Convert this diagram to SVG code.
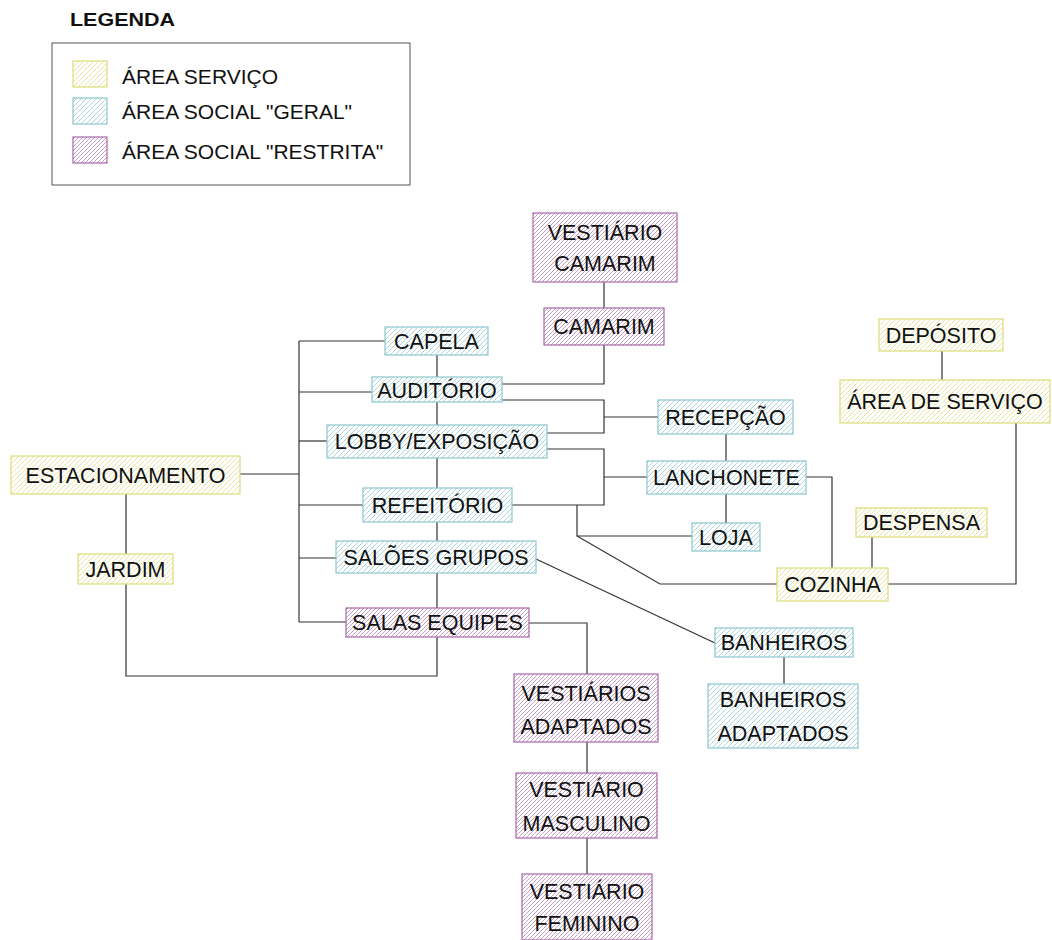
<svg xmlns="http://www.w3.org/2000/svg" width="1052" height="940" viewBox="0 0 1052 940">
<defs>
<pattern id="hy" patternUnits="userSpaceOnUse" width="5" height="5"><rect width="5" height="5" fill="#fff"/><path d="M-1,1 l2,-2 M0,5 l5,-5 M4,6 l2,-2" stroke="#dede80" stroke-width="0.75"/></pattern>
<pattern id="hc" patternUnits="userSpaceOnUse" width="5" height="5"><rect width="5" height="5" fill="#fff"/><path d="M-1,1 l2,-2 M0,5 l5,-5 M4,6 l2,-2" stroke="#90c8d0" stroke-width="0.75"/></pattern>
<pattern id="hm" patternUnits="userSpaceOnUse" width="4" height="4"><rect width="4" height="4" fill="#fff"/><path d="M-1,1 l2,-2 M0,4 l4,-4 M3,5 l2,-2" stroke="#b080b4" stroke-width="0.75"/></pattern>
</defs>
<style>
.y{fill:url(#hy);stroke:#dcdc78;stroke-width:1.2}
.c{fill:url(#hc);stroke:#8cc6ce;stroke-width:1.2}
.m{fill:url(#hm);stroke:#a868a8;stroke-width:1.2}
text{font-family:"Liberation Sans",Arial,sans-serif;fill:#111}
.n{font-size:21.5px;text-anchor:middle}
.l{font-size:21px}
.conn path{fill:none;stroke:#333;stroke-width:1.2}
</style>
<rect width="1052" height="940" fill="#fff"/>
<g id="legend">
<text x="70" y="26" font-size="18" font-weight="bold" textLength="105" lengthAdjust="spacingAndGlyphs">LEGENDA</text>
<rect x="52" y="43" width="358" height="142" fill="none" stroke="#555" stroke-width="1"/>
<rect class="y" x="73" y="61" width="34" height="26"/>
<rect class="c" x="73" y="98" width="34" height="26"/>
<rect class="m" x="73" y="137" width="34" height="26"/>
<text class="l" x="122" y="84">ÁREA SERVIÇO</text>
<text class="l" x="122" y="119">ÁREA SOCIAL "GERAL"</text>
<text class="l" x="122" y="159">ÁREA SOCIAL "RESTRITA"</text>
</g>
<g class="conn" id="connectors">
<path d="M299,341 V622"/>
<path d="M299,341 H385"/>
<path d="M299,392 H372"/>
<path d="M299,441 H327"/>
<path d="M240,474 H299"/>
<path d="M299,505 H363"/>
<path d="M299,558 H336"/>
<path d="M299,622 H346"/>
<path d="M437,355 V377"/>
<path d="M437,402 V425"/>
<path d="M437,458 V488"/>
<path d="M437,522 V541"/>
<path d="M437,573 V608"/>
<path d="M437,637 V676 H126 V584"/>
<path d="M126,494 V554"/>
<path d="M604,282 V308"/>
<path d="M604,345 V384 H502"/>
<path d="M502,400 H604 V433 H547"/>
<path d="M604,417 H658"/>
<path d="M547,449 H604 V505 H512"/>
<path d="M604,477 H647"/>
<path d="M577,505 V536 H692"/>
<path d="M577,536 L660,584 H777"/>
<path d="M726,434 V461"/>
<path d="M726,494 V523"/>
<path d="M806,477 H832 V568"/>
<path d="M872,537 V568"/>
<path d="M888,584 H1016 V423"/>
<path d="M942,351 V380"/>
<path d="M536,559 L715,643"/>
<path d="M784,657 V684"/>
<path d="M529,623 H587 V674"/>
<path d="M587,742 V773"/>
<path d="M587,838 V874"/>
</g>
<g id="vestiario-camarim"><rect class="m" x="533" y="213" width="144" height="69"/><text class="n" x="605" y="240">VESTIÁRIO</text><text class="n" x="605" y="271">CAMARIM</text></g>
<g id="camarim"><rect class="m" x="544" y="308" width="120" height="37"/><text class="n" x="604" y="334">CAMARIM</text></g>
<g id="capela"><rect class="c" x="385" y="327" width="103" height="28"/><text class="n" x="436.5" y="349">CAPELA</text></g>
<g id="auditorio"><rect class="c" x="372" y="377" width="130" height="25"/><text class="n" x="437" y="397.5">AUDITÓRIO</text></g>
<g id="lobby"><rect class="c" x="327" y="425" width="220" height="33"/><text class="n" x="437" y="449">LOBBY/EXPOSIÇÃO</text></g>
<g id="refeitorio"><rect class="c" x="363" y="488" width="149" height="34"/><text class="n" x="437.5" y="513">REFEITÓRIO</text></g>
<g id="saloes-grupos"><rect class="c" x="336" y="541" width="200" height="32"/><text class="n" x="436" y="565">SALÕES GRUPOS</text></g>
<g id="salas-equipes"><rect class="m" x="346" y="608" width="183" height="29"/><text class="n" x="437.5" y="630">SALAS EQUIPES</text></g>
<g id="estacionamento"><rect class="y" x="11" y="456" width="229" height="38"/><text class="n" x="125.5" y="483">ESTACIONAMENTO</text></g>
<g id="jardim"><rect class="y" x="78" y="554" width="95" height="30"/><text class="n" x="125.5" y="577">JARDIM</text></g>
<g id="recepcao"><rect class="c" x="658" y="400" width="135" height="34"/><text class="n" x="725.5" y="425">RECEPÇÃO</text></g>
<g id="lanchonete"><rect class="c" x="647" y="461" width="159" height="33"/><text class="n" x="726.5" y="485">LANCHONETE</text></g>
<g id="loja"><rect class="c" x="692" y="523" width="68" height="28"/><text class="n" x="726" y="545">LOJA</text></g>
<g id="deposito"><rect class="y" x="879" y="319" width="124" height="32"/><text class="n" x="941" y="343">DEPÓSITO</text></g>
<g id="area-servico"><rect class="y" x="840" y="380" width="210" height="43"/><text class="n" x="945" y="409">ÁREA DE SERVIÇO</text></g>
<g id="despensa"><rect class="y" x="856" y="508" width="131" height="29"/><text class="n" x="921.5" y="530">DESPENSA</text></g>
<g id="cozinha"><rect class="y" x="777" y="568" width="111" height="33"/><text class="n" x="832.5" y="592">COZINHA</text></g>
<g id="banheiros"><rect class="c" x="715" y="628" width="138" height="29"/><text class="n" x="784" y="650">BANHEIROS</text></g>
<g id="banheiros-adaptados"><rect class="c" x="708" y="684" width="150" height="64"/><text class="n" x="783" y="707">BANHEIROS</text><text class="n" x="783" y="741">ADAPTADOS</text></g>
<g id="vestiarios-adaptados"><rect class="m" x="514" y="674" width="144" height="68"/><text class="n" x="586" y="701">VESTIÁRIOS</text><text class="n" x="586" y="734">ADAPTADOS</text></g>
<g id="vestiario-masculino"><rect class="m" x="516" y="773" width="141" height="65"/><text class="n" x="586.5" y="797">VESTIÁRIO</text><text class="n" x="586.5" y="831">MASCULINO</text></g>
<g id="vestiario-feminino"><rect class="m" x="522" y="874" width="130" height="66"/><text class="n" x="587" y="899">VESTIÁRIO</text><text class="n" x="587" y="931">FEMININO</text></g>
</svg>
